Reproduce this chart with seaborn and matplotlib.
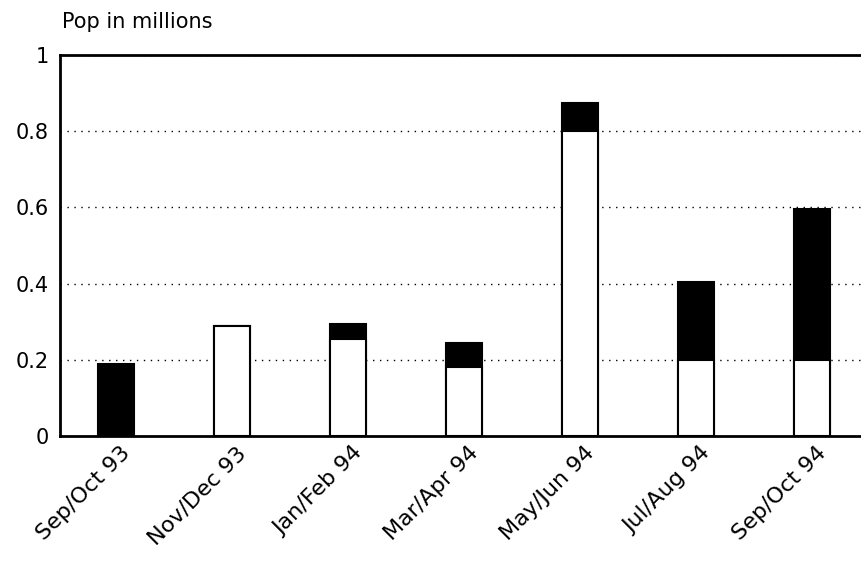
import pandas as pd
import matplotlib.pyplot as plt
import matplotlib.transforms as mtransforms
import seaborn as sns

sns.set_style('white')
plt.rcParams['font.family'] = ['DejaVu Sans']
plt.rcParams['text.color'] = 'black'
plt.rcParams['xtick.color'] = 'black'
plt.rcParams['ytick.color'] = 'black'

# data (millions)
periods = ['Sep/Oct 93', 'Nov/Dec 93', 'Jan/Feb 94', 'Mar/Apr 94',
           'May/Jun 94', 'Jul/Aug 94', 'Sep/Oct 94']
white_part = [0.0, 0.29, 0.255, 0.18, 0.80, 0.20, 0.20]
black_part = [0.19, 0.0, 0.04, 0.065, 0.075, 0.205, 0.395]
y_ticks = [0, 0.2, 0.4, 0.6, 0.8, 1]
y_labels = ['0', '0.2', '0.4', '0.6', '0.8', '1']

df = pd.DataFrame({'Period': periods, 'White': white_part, 'Black': black_part})
df['Total'] = df['White'] + df['Black']

fig = plt.figure(figsize=(8.62, 5.64), dpi=100)
ax = fig.add_axes([60 / 862, 1 - 436 / 564, 1 - 60 / 862, 381 / 564])

# black top first (full height), white bottom drawn over it
sns.barplot(data=df, x='Period', y='Total', color='black', edgecolor='black',
            linewidth=1.5, width=0.31, saturation=1, ax=ax)
sns.barplot(data=df, x='Period', y='White', color='white', edgecolor='black',
            linewidth=1.5, width=0.31, saturation=1, ax=ax)

ax.set_xlim(-0.48, 6.43)
ax.set_ylim(0, 1)
ax.set_yticks(y_ticks)
ax.set_yticklabels(y_labels, fontsize=15, color='black')
ax.set_xlabel('')
ax.set_ylabel('')
ax.set_axisbelow(True)
ax.yaxis.grid(True, linestyle=(0, (1, 4)), color='black', linewidth=1)
ax.xaxis.grid(False)
ax.tick_params(axis='y', length=0, pad=8)
ax.tick_params(axis='x', length=0, pad=5)

# shift rotated labels a little right, like the original
offset = mtransforms.ScaledTranslation(4 / 100, 0, fig.dpi_scale_trans)
for lbl in ax.get_xticklabels():
    lbl.set_rotation(45)
    lbl.set_ha('right')
    lbl.set_rotation_mode('anchor')
    lbl.set_fontsize(16)
    lbl.set_color('black')
    lbl.set_transform(lbl.get_transform() + offset)

for side in ['left', 'bottom', 'top']:
    ax.spines[side].set_visible(True)
    ax.spines[side].set_color('black')
    ax.spines[side].set_linewidth(2)
ax.spines['right'].set_visible(False)

fig.text(62 / 862, 1 - 22 / 564, 'Pop in millions', fontsize=15, va='center', ha='left', color='black')

fig.savefig('out.png', dpi=100)
plt.close()
